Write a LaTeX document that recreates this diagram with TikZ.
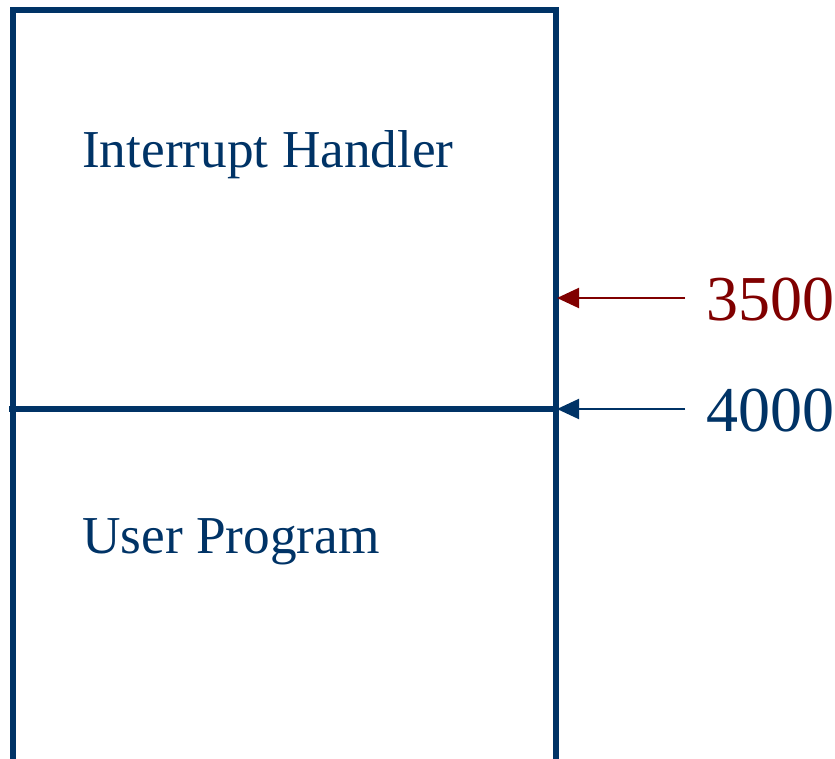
\documentclass[tikz,border=0pt]{standalone}
\usepackage{fontspec}
\setmainfont{Liberation Serif}
\usetikzlibrary{arrows.meta}
\definecolor{memblue}{RGB}{0,51,102}
\definecolor{memred}{RGB}{128,0,0}
\begin{document}
\begin{tikzpicture}[x=1pt,y=-1pt,
  wall/.style={draw=memblue,line width=6pt,line join=miter},
  region/.style={text=memblue,inner sep=0pt,anchor=base west,font=\fontsize{53.3}{60}\selectfont},
  addr/.style={inner sep=0pt,anchor=base west,font=\fontsize{64}{72}\selectfont},
  ptr/.style={line width=2pt,-{Triangle[length=22pt,width=20pt]},shorten <=21pt}]
\useasboundingbox (0,0) rectangle (835,759);
% memory box
\draw[wall] (13,759) -- (13,10) -- (556,10) -- (556,759);
\draw[wall] (9,409) -- (556,409);
% region labels
\node[region] (ih) at (82,168) {Interrupt Handler};
\node[region] (up) at (82,553) {User Program};
% address labels
\node[addr,text=memred] (l3500) at (706,320) {3500};
\node[addr,text=memblue] (l4000) at (706,431) {4000};
\coordinate (t3500) at (557,298);
\coordinate (t4000) at (557,409);
\draw[ptr,draw=memred,fill=memred] (l3500.west |- t3500) -- (t3500);
\draw[ptr,draw=memblue,fill=memblue] (l4000.west |- t4000) -- (t4000);
\end{tikzpicture}
\end{document}
